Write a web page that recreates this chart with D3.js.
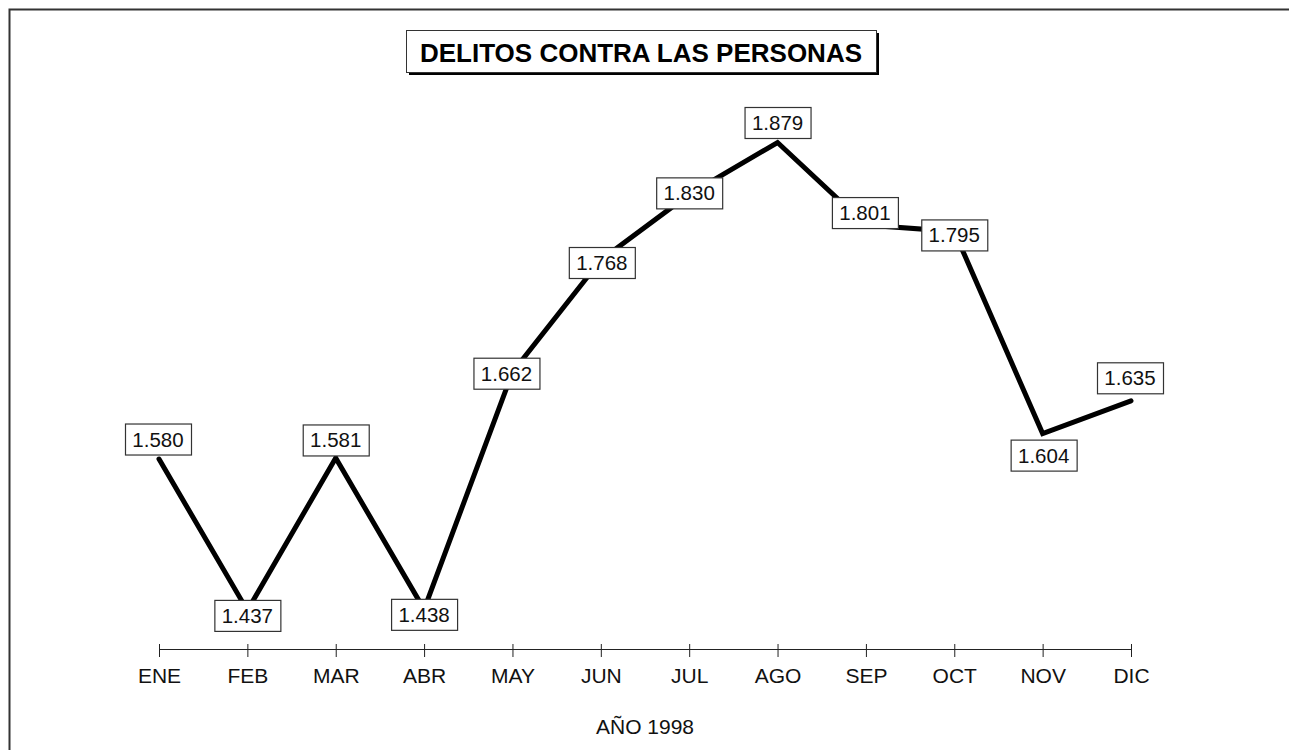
<!DOCTYPE html>
<html>
<head>
<meta charset="utf-8">
<script src="https://cdn.jsdelivr.net/npm/d3@7"></script>
<style>
  body { margin: 0; background: #fff; }
  svg { display: block; font-family: "Liberation Sans", Arial, Helvetica, sans-serif; }
</style>
</head>
<body>
<div id="chart"></div>
<script>
// data
const months = ["ENE", "FEB", "MAR", "ABR", "MAY", "JUN", "JUL", "AGO", "SEP", "OCT", "NOV", "DIC"];
const delitos = [1580, 1437, 1581, 1438, 1662, 1768, 1830, 1879, 1801, 1795, 1604, 1635];
const valueLabels = ["1.580", "1.437", "1.581", "1.438", "1.662", "1.768", "1.830", "1.879", "1.801", "1.795", "1.604", "1.635"];
const chartTitle = "DELITOS CONTRA LAS PERSONAS";
const axisTitle = "AÑO 1998";

// where each value box sits relative to its point (px)
const labelShift = [[-1, -20], [0, 5], [0, -18], [0, 5], [-6, 1], [1, 2.5],
                    [0, -1.5], [0, -20], [-1, -12.5], [0, 3.5], [1, 21.5], [-1, -23]];

const W = 1289, H = 750;

const svg = d3.select("#chart").append("svg")
    .attr("width", W)
    .attr("height", H);

// outer frame (top + left only)
svg.append("path")
    .attr("d", `M9.5,${H} L9.5,9.5 L${W},9.5`)
    .attr("fill", "none")
    .attr("stroke", "#333")
    .attr("stroke-width", 2);

// title box with shadow
const tb = { x: 406, y: 30, w: 470, h: 42 };
svg.append("rect")
    .attr("x", tb.x + 3).attr("y", tb.y + 3)
    .attr("width", tb.w).attr("height", tb.h)
    .attr("fill", "#000");
svg.append("rect")
    .attr("x", tb.x + 0.5).attr("y", tb.y + 0.5)
    .attr("width", tb.w).attr("height", tb.h)
    .attr("fill", "#fff")
    .attr("stroke", "#333")
    .attr("stroke-width", 1);
svg.append("text")
    .attr("x", tb.x + tb.w / 2)
    .attr("y", 62)
    .attr("text-anchor", "middle")
    .style("font-size", "26px")
    .style("font-weight", "bold")
    .text(chartTitle);

const x = d3.scalePoint()
    .domain(months)
    .range([159, 1131]);

const y = d3.scaleLinear()
    .domain([1437, 1879])
    .range([610.4, 142.5]);

// x axis
const axisY = 649;
const xAxis = svg.append("g")
    .attr("transform", `translate(0,${axisY})`)
    .call(d3.axisBottom(x).tickSize(8).tickSizeOuter(0));
xAxis.select(".domain")
    .attr("d", `M${x.range()[0]},0.5H${x.range()[1]}`)
    .attr("stroke", "#222");
xAxis.selectAll(".tick line")
    .attr("y1", -5)
    .attr("y2", 8)
    .attr("stroke", "#222");
xAxis.selectAll(".tick text")
    .attr("y", 34)
    .attr("dy", 0)
    .attr("fill", "#111")
    .style("font-size", "21px")
    .style("font-family", "\"Liberation Sans\", Arial, sans-serif");

svg.append("text")
    .attr("x", (x.range()[0] + x.range()[1]) / 2)
    .attr("y", 734)
    .attr("text-anchor", "middle")
    .style("font-size", "21px")
    .attr("fill", "#111")
    .text(axisTitle);

// the line
const line = d3.line()
    .x((d, i) => x(months[i]))
    .y(d => y(d));

svg.append("path")
    .datum(delitos)
    .attr("d", line)
    .attr("fill", "none")
    .attr("stroke", "#000")
    .attr("stroke-width", 5)
    .attr("stroke-linecap", "round")
    .attr("stroke-linejoin", "miter");

// value boxes
const boxW = 66, boxH = 31;
const labels = svg.selectAll(".val")
    .data(delitos)
    .enter().append("g")
    .attr("class", "val")
    .attr("transform", (d, i) =>
        `translate(${x(months[i]) + labelShift[i][0]},${y(d) + labelShift[i][1]})`);

labels.append("rect")
    .attr("x", -boxW / 2 + 0.5)
    .attr("y", -boxH / 2 + 0.5)
    .attr("width", boxW)
    .attr("height", boxH)
    .attr("fill", "#fff")
    .attr("stroke", "#333")
    .attr("stroke-width", 1.2);

labels.append("text")
    .attr("text-anchor", "middle")
    .attr("y", 7.5)
    .style("font-size", "20.5px")
    .attr("fill", "#111")
    .text((d, i) => valueLabels[i]);
</script>
</body>
</html>
